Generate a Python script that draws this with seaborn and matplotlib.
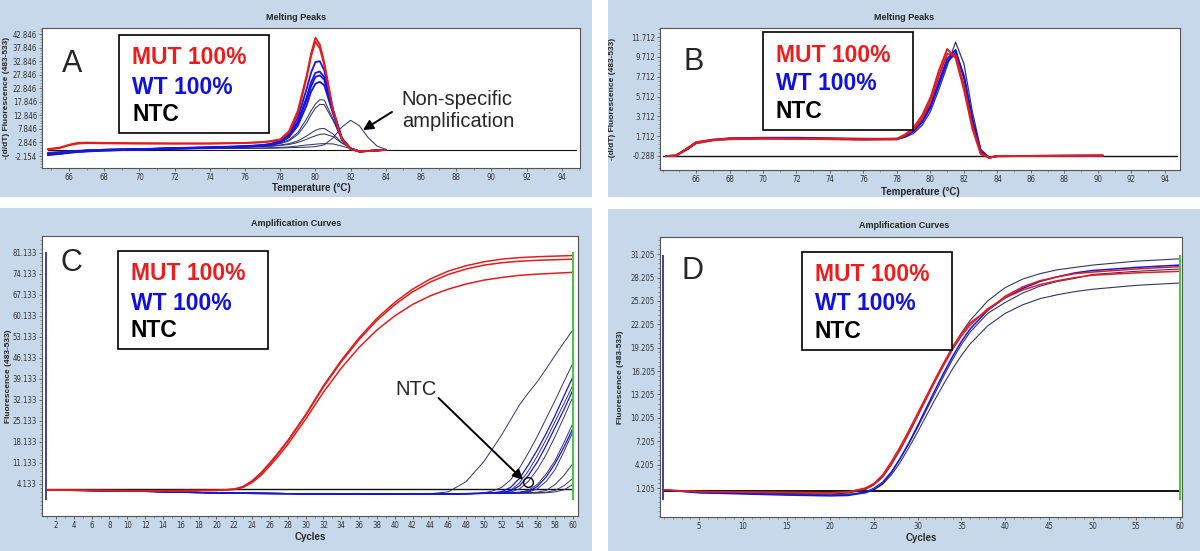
import matplotlib
matplotlib.use("Agg")
import matplotlib.pyplot as plt
from matplotlib import font_manager
from matplotlib.patches import Rectangle
from matplotlib.ticker import AutoMinorLocator
import pandas as pd
import seaborn as sns

# ---------------- data ----------------
# A: melting peaks (temperature in °C)
temp_a = [64.8, 65.5, 66, 66.5, 67, 68, 70, 72, 74, 76, 77, 77.5, 78, 78.5, 79,
          79.5, 79.75, 80, 80.25, 80.5, 81, 81.5, 82, 82.5, 83, 83.5, 84]
mut_a1 = [0.4, 1.0, 2.0, 2.7, 2.8, 2.7, 2.6, 2.5, 2.5, 2.7, 3.0, 3.4, 4.0, 7.0, 14.5, 27.5, 35.5, 41.5, 39.0, 32.5, 15.0, 4.0, 0.5, -0.5, -0.3, -0.1, 0.1]
mut_a2 = [0.2, 0.8, 1.8, 2.4, 2.6, 2.5, 2.4, 2.4, 2.4, 2.6, 2.9, 3.2, 3.8, 6.5, 13.5, 26.5, 34.5, 40.0, 37.5, 31.5, 14.5, 3.8, 0.4, -0.5, -0.3, -0.1, 0.1]
wt_a1 = [-1.4, -1.0, -0.6, -0.4, -0.2, 0.1, 0.4, 0.8, 1.1, 1.5, 1.9, 2.4, 3.5, 6.0, 12.0, 22.5, 28.5, 32.5, 32.8, 29.5, 15.0, 4.5, 0.5, -0.5, -0.3, -0.1, 0.1]
wt_a2 = [-1.6, -1.2, -0.8, -0.5, -0.3, 0.0, 0.3, 0.7, 1.0, 1.4, 1.8, 2.2, 3.2, 5.5, 10.5, 19.5, 25.0, 28.5, 29.0, 27.0, 14.5, 4.3, 0.5, -0.5, -0.3, -0.1, 0.1]
wt_a3 = [-1.7, -1.3, -0.9, -0.6, -0.4, -0.1, 0.2, 0.6, 0.9, 1.3, 1.7, 2.1, 3.0, 5.2, 10.0, 18.5, 23.5, 27.0, 27.6, 26.0, 14.0, 4.2, 0.5, -0.5, -0.3, -0.1, 0.1]
wt_a4 = [-1.8, -1.4, -1.0, -0.7, -0.5, -0.2, 0.2, 0.5, 0.9, 1.3, 1.6, 2.0, 2.8, 4.8, 9.0, 16.5, 21.5, 24.5, 25.2, 24.0, 13.5, 4.0, 0.5, -0.5, -0.3, -0.1, 0.1]
other_a1 = [-1.2, -0.9, -0.5, -0.3, -0.1, 0.2, 0.5, 0.8, 1.1, 1.4, 1.7, 2.0, 2.6, 3.8, 6.5, 11.5, 14.5, 17.0, 18.6, 18.5, 11.5, 4.0, 0.8, -0.4, -0.3, -0.1, 0.1]
other_a2 = [-1.3, -1.0, -0.6, -0.4, -0.2, 0.1, 0.4, 0.7, 1.0, 1.3, 1.6, 1.9, 2.4, 3.4, 5.8, 10.0, 13.0, 15.5, 16.9, 16.8, 11.0, 4.0, 0.8, -0.4, -0.3, -0.1, 0.1]
other_a3 = [-1.0, -0.7, -0.4, -0.2, 0.0, 0.3, 0.5, 0.8, 1.0, 1.2, 1.4, 1.6, 1.9, 2.4, 3.4, 5.2, 6.3, 7.3, 7.9, 8.0, 6.0, 2.8, 0.8, -0.3, -0.2, -0.1, 0.1]
other_a4 = [-1.0, -0.7, -0.4, -0.2, 0.0, 0.3, 0.5, 0.7, 0.9, 1.1, 1.3, 1.4, 1.7, 2.1, 2.8, 4.0, 4.7, 5.3, 5.8, 6.0, 5.0, 2.6, 0.8, -0.3, -0.2, -0.1, 0.1]
other_a5 = [-1.1, -0.8, -0.5, -0.3, -0.1, 0.1, 0.3, 0.5, 0.6, 0.7, 0.8, 0.9, 1.0, 1.2, 1.5, 1.9, 2.05, 2.2, 2.35, 2.4, 2.3, 1.5, 0.6, -0.2, -0.1, 0.0, 0.1]
nonspec_a = [-0.8, -0.6, -0.3, -0.1, 0.0, 0.2, 0.4, 0.5, 0.6, 0.7, 0.7, 0.7, 0.8, 0.9, 1.0, 1.1, 1.2, 1.3, 1.6, 2.0, 4.5, 8.5, 11.0, 9.0, 4.6, 1.5, 0.3]
ntc_a_x = [64.8, 94.8]
ntc_a = [0.2, 0.2]
yticks_a = [-2.154, 2.846, 7.846, 12.846, 17.846, 22.846, 27.846, 32.846, 37.846, 42.846]

# B: melting peaks
temp_b = [64.2, 64.8, 65.5, 66, 67, 68, 70, 72, 74, 76, 78, 78.5, 79, 79.5, 80,
          80.5, 81, 81.5, 82, 82.5, 83, 83.5, 84, 90.3]
mut_b1 = [-0.3, -0.25, 0.5, 1.1, 1.35, 1.45, 1.5, 1.45, 1.45, 1.4, 1.45, 1.9, 2.6, 3.8, 5.6, 8.3, 10.5, 9.6, 6.4, 2.5, -0.1, -0.45, -0.3, -0.25]
mut_b2 = [-0.3, -0.25, 0.5, 1.0, 1.3, 1.4, 1.45, 1.45, 1.4, 1.35, 1.4, 1.8, 2.4, 3.5, 5.2, 7.8, 10.0, 9.9, 6.8, 2.8, 0.0, -0.45, -0.3, -0.25]
wt_b1 = [-0.3, -0.25, 0.5, 1.1, 1.35, 1.5, 1.55, 1.55, 1.5, 1.45, 1.45, 1.75, 2.3, 3.3, 4.8, 7.2, 9.5, 10.4, 7.6, 3.3, 0.1, -0.45, -0.3, -0.25]
wt_b2 = [-0.3, -0.25, 0.4, 1.0, 1.3, 1.45, 1.5, 1.5, 1.45, 1.4, 1.4, 1.7, 2.2, 3.1, 4.6, 6.9, 9.2, 10.1, 7.8, 3.5, 0.2, -0.45, -0.3, -0.25]
other_b1 = [-0.3, -0.25, 0.5, 1.05, 1.35, 1.45, 1.5, 1.5, 1.45, 1.4, 1.4, 1.6, 2.0, 2.8, 4.2, 6.4, 8.8, 11.2, 9.0, 4.2, 0.4, -0.4, -0.3, -0.25]
ntc_b_x = [64.0, 94.7]
ntc_b = [-0.32, -0.32]
yticks_b = [-0.288, 1.712, 3.712, 5.712, 7.712, 9.712, 11.712]

# C: amplification curves (cycles)
cycles_c = [1, 5, 10, 15, 20, 22, 23, 24, 25, 26, 27, 28, 30, 32, 34, 36, 38, 40,
            42, 44, 46, 48, 50, 52, 54, 56, 58, 60]
mut_c1 = [2.1, 2.0, 1.9, 1.9, 2.0, 2.4, 3.3, 5.2, 7.9, 11.2, 14.8, 18.6, 27.2, 36.8, 45.3, 52.8, 59.3, 64.6, 69.0, 72.4, 75.0, 76.8, 78.1, 79.0, 79.5, 79.8, 80.0, 80.2]
mut_c2 = [2.1, 2.0, 1.9, 1.9, 2.0, 2.4, 3.2, 5.0, 7.6, 10.9, 14.5, 18.3, 26.9, 36.4, 44.8, 52.2, 58.6, 63.8, 68.1, 71.4, 73.9, 75.7, 77.0, 77.8, 78.3, 78.6, 78.8, 79.0]
mut_c3 = [2.1, 2.0, 1.9, 1.9, 2.0, 2.3, 3.0, 4.6, 7.0, 10.2, 13.6, 17.3, 25.7, 34.7, 42.7, 49.6, 55.4, 60.1, 63.9, 66.8, 69.0, 70.7, 72.0, 72.9, 73.6, 74.0, 74.3, 74.6]
late_cycles = [1, 10, 20, 30, 40, 44, 46, 48, 50, 51, 52, 53, 54, 55, 56, 57, 58, 59, 60]
late_c1 = [2.1, 1.8, 1.2, 0.9, 0.8, 0.9, 1.5, 4.9, 11.6, 16.0, 20.5, 25.5, 30.5, 34.5, 38.2, 42.5, 47.0, 51.3, 55.5]
late_c2 = [2.1, 1.8, 1.2, 0.9, 0.8, 0.8, 0.9, 1.0, 1.2, 1.8, 3.0, 5.5, 9.5, 14.5, 20.0, 26.0, 32.0, 38.3, 44.4]
late_c3 = [2.1, 1.8, 1.1, 0.8, 0.8, 0.8, 0.8, 0.9, 1.0, 1.2, 1.6, 3.0, 6.0, 10.5, 15.5, 21.0, 27.0, 33.5, 39.9]
late_c4 = [2.1, 1.8, 1.2, 0.9, 0.8, 0.8, 0.8, 0.9, 1.0, 1.1, 1.3, 2.0, 4.5, 8.5, 13.5, 19.0, 25.0, 31.0, 37.1]
late_c5 = [2.1, 1.8, 1.1, 0.8, 0.7, 0.8, 0.8, 0.9, 1.0, 1.1, 1.3, 1.8, 3.5, 7.0, 11.5, 17.0, 23.0, 29.0, 35.5]
late_c6 = [2.1, 1.8, 1.2, 0.9, 0.8, 0.8, 0.8, 0.9, 1.0, 1.0, 1.1, 1.4, 2.5, 5.0, 9.0, 14.0, 20.0, 26.5, 33.2]
late_c7 = [2.1, 1.8, 1.2, 0.9, 0.8, 0.8, 0.8, 0.9, 1.0, 1.0, 1.1, 1.2, 1.4, 2.0, 4.0, 7.5, 12.0, 18.0, 24.4]
late_c8 = [2.1, 1.8, 1.1, 0.8, 0.7, 0.8, 0.8, 0.9, 1.0, 1.0, 1.0, 1.1, 1.3, 1.6, 3.3, 6.5, 11.0, 16.5, 22.7]
late_c9 = [2.1, 1.8, 1.2, 0.9, 0.8, 0.8, 0.8, 0.9, 1.0, 1.0, 1.0, 1.1, 1.2, 1.4, 2.5, 5.0, 9.0, 15.0, 21.6]
late_c10 = [2.1, 1.8, 1.2, 0.9, 0.8, 0.8, 0.8, 0.9, 1.0, 1.0, 1.0, 1.0, 1.1, 1.2, 1.4, 2.0, 4.0, 7.0, 11.0]
late_c11 = [2.1, 1.8, 1.2, 0.9, 0.8, 0.8, 0.8, 0.9, 1.0, 1.0, 1.0, 1.0, 1.1, 1.1, 1.2, 1.4, 2.0, 3.6, 6.0]
late_c12 = [2.1, 1.8, 1.2, 0.9, 0.8, 0.8, 0.8, 0.9, 1.0, 1.0, 1.0, 1.0, 1.0, 1.1, 1.1, 1.2, 1.5, 2.2, 4.0]
ntc_c_x = [1, 60]
ntc_c = [2.3, 2.3]
cursor_c_x = [0.9, 60.0]
cursor_c_y = [-1.2, 81.3]
yticks_c = [4.133, 11.133, 18.133, 25.133, 32.133, 39.133, 46.133, 53.133, 60.133, 67.133, 74.133, 81.133]

# D: amplification curves
cycles_d = [1, 5, 10, 15, 20, 22, 24, 25, 26, 27, 28, 29, 30, 31, 32, 33, 34, 35,
            36, 38, 40, 42, 44, 46, 48, 50, 55, 60]
mut_d1 = [0.95, 0.75, 0.7, 0.65, 0.6, 0.7, 1.2, 1.8, 2.9, 4.6, 6.5, 8.6, 10.8, 13.0, 15.2, 17.3, 19.3, 21.0, 22.4, 24.0, 25.8, 27.0, 27.8, 28.3, 28.7, 28.9, 29.3, 29.6]
mut_d2 = [0.95, 0.75, 0.7, 0.65, 0.6, 0.7, 1.1, 1.7, 2.7, 4.3, 6.2, 8.3, 10.5, 12.7, 14.9, 17.0, 19.0, 20.7, 22.1, 24.2, 25.6, 26.6, 27.3, 27.8, 28.2, 28.5, 28.8, 29.0]
wt_d1 = [0.95, 0.6, 0.45, 0.3, 0.2, 0.25, 0.6, 1.0, 1.8, 3.2, 5.0, 7.0, 9.2, 11.5, 13.8, 16.0, 18.1, 20.0, 21.6, 24.0, 25.6, 26.8, 27.7, 28.3, 28.8, 29.1, 29.5, 29.8]
other_d1 = [0.95, 0.7, 0.6, 0.5, 0.45, 0.55, 1.0, 1.6, 2.6, 4.2, 6.1, 8.2, 10.4, 12.7, 15.0, 17.2, 19.3, 21.1, 22.7, 25.2, 26.9, 28.0, 28.7, 29.2, 29.5, 29.8, 30.3, 30.6]
other_d2 = [0.95, 0.6, 0.5, 0.4, 0.3, 0.35, 0.6, 1.0, 1.7, 2.9, 4.5, 6.4, 8.4, 10.5, 12.6, 14.6, 16.5, 18.2, 19.7, 22.0, 23.6, 24.7, 25.5, 26.0, 26.4, 26.7, 27.2, 27.5]
other_d3 = [0.95, 0.65, 0.5, 0.4, 0.35, 0.4, 0.7, 1.2, 2.0, 3.3, 5.0, 6.9, 9.0, 11.2, 13.4, 15.6, 17.7, 19.6, 21.2, 23.6, 25.0, 26.2, 27.1, 27.7, 28.1, 28.6, 29.0, 29.3]
ntc_d_x = [1, 60]
ntc_d = [0.85, 0.85]
cursor_d_x = [0.9, 60.0]
cursor_d_y = [-0.35, 31.1]
yticks_d = [1.205, 4.205, 7.205, 10.205, 13.205, 16.205, 19.205, 22.205, 25.205, 28.205, 31.205]

legend_labels = ["MUT 100%", "WT 100%", "NTC"]

# ---------------- styling ----------------
W, H = 1200, 551
BG = "#c6d8e9"
RED = "#e01e1e"
BLUE = "#1414e6"
NAVY = "#34346c"
palette = {"mut": RED, "wt": BLUE, "other": NAVY, "ntc": "#111111"}
legend_colors = ["#ee1c1c", "#1010e0", "black"]

sns.set_style("ticks")
plt.rcParams["font.family"] = ["Liberation Sans", "DejaVu Sans"]

# narrow font for the small instrument-style tick labels, if one is installed
fonts = font_manager.fontManager.ttflist
if any(f.name == "Liberation Sans Narrow" for f in fonts):
    TICK_FONT = dict(family="Liberation Sans Narrow", size=6.3)
elif any(f.name == "DejaVu Sans" and f.stretch == "condensed" for f in fonts):
    TICK_FONT = dict(family="DejaVu Sans", stretch="condensed", size=5.6)
else:
    TICK_FONT = dict(family="Liberation Sans", size=5.4)


def long_frame(x, groups):
    parts = []
    for group, series in groups.items():
        for i, ys in enumerate(series):
            parts.append(pd.DataFrame({"x": x, "y": ys, "group": group,
                                       "curve": f"{group}{i}"}))
    return parts


def draw_curves(ax, parts, widths):
    df = pd.concat(parts, ignore_index=True)
    order = [g for g in ["ntc", "other", "wt", "mut"] if g in set(df["group"])]
    sns.lineplot(data=df, x="x", y="y", hue="group", units="curve", estimator=None,
                 palette=palette, hue_order=order, size="group", sizes=widths,
                 size_order=order, sort=False, legend=False, ax=ax)


def add_axes(l, t, r, b):
    return fig.add_axes([l / W, 1 - b / H, (r - l) / W, (b - t) / H])


def ftext(x, y, s, **kw):
    fig.text(x / W, 1 - y / H, s, **kw)


def style_axes(ax, xlim, ylim, xticks, yticks, xminor):
    ax.set_facecolor("white")
    ax.set_xlim(xlim)
    ax.set_ylim(ylim)
    ax.set_xticks(xticks)
    ax.set_yticks(yticks)
    ax.set_yticklabels([f"{v:.3f}" for v in yticks])
    ax.yaxis.set_minor_locator(AutoMinorLocator(5))
    ax.xaxis.set_minor_locator(AutoMinorLocator(xminor))
    ax.tick_params(labelcolor="#333333", length=2.5, width=0.6,
                   color="#555555", pad=1.2)
    ax.tick_params(which="minor", length=1.3, width=0.5, color="#777777")
    for lab in ax.get_xticklabels() + ax.get_yticklabels():
        lab.set_fontproperties(font_manager.FontProperties(**TICK_FONT))
    ax.set_xlabel("")
    ax.set_ylabel("")
    for s in ax.spines.values():
        s.set_color("#555555")
        s.set_linewidth(0.8)


def legend_box(l, t):
    fig.add_artist(Rectangle((l / W, 1 - (t + 98) / H), 150 / W, 98 / H,
                             transform=fig.transFigure, facecolor="white",
                             edgecolor="black", lw=1.2, zorder=5))
    for lab, col, dy in zip(legend_labels, legend_colors, [29.5, 58.5, 86]):
        ftext(l + 13, t + dy, lab, color=col, fontsize=16.5, fontweight="bold",
              va="baseline", ha="left", zorder=6)


def ylabel(x, y, s):
    ftext(x, y, s, fontsize=6, fontweight="bold", rotation=90, ha="center", va="center")


fig = plt.figure(figsize=(12, 5.51), dpi=100)

for l, t, r, b in [(0, 0, 592, 197), (608, 0, 1200, 197),
                   (0, 208, 592, 551), (608, 209, 1200, 551)]:
    fig.add_artist(Rectangle((l / W, 1 - b / H), (r - l) / W, (b - t) / H,
                             transform=fig.transFigure, facecolor=BG,
                             edgecolor="none", zorder=-10))

# ---- panel A ----
ax_a = add_axes(42, 28, 580, 168)
parts = long_frame(temp_a, {"mut": [mut_a1, mut_a2],
                            "wt": [wt_a1, wt_a2, wt_a3, wt_a4],
                            "other": [other_a1, other_a2, other_a3, other_a4,
                                      other_a5, nonspec_a]})
parts += long_frame(ntc_a_x, {"ntc": [ntc_a]})
draw_curves(ax_a, parts, {"mut": 1.3, "wt": 1.3, "other": 0.75, "ntc": 0.8})
style_axes(ax_a, (64.47, 95.03), (-6.58, 45.06), list(range(66, 95, 2)), yticks_a, 2)
ax_a.text(84.9, 14.8, "Non-specific\namplification", fontsize=14.5,
          va="center", ha="left", linespacing=1.2)
ax_a.annotate("", xy=(82.7, 7.4), xytext=(84.35, 14.1),
              arrowprops=dict(arrowstyle="-|>", color="black", lw=1.4,
                              mutation_scale=15, shrinkA=0, shrinkB=0))
ftext(296, 17, "Melting Peaks", fontsize=6.5, fontweight="bold", ha="center", va="center")
ftext(311, 188, "Temperature (°C)", fontsize=7, fontweight="bold", ha="center", va="center")
ylabel(7, 98, "-(d/dT) Fluorescence (483-533)")
ftext(62, 72, "A", fontsize=22, va="baseline", ha="left")
legend_box(119, 35)

# ---- panel B ----
ax_b = add_axes(660, 28, 1180, 170)
parts = long_frame(temp_b, {"mut": [mut_b1, mut_b2], "wt": [wt_b1, wt_b2],
                            "other": [other_b1]})
parts += long_frame(ntc_b_x, {"ntc": [ntc_b]})
draw_curves(ax_b, parts, {"mut": 1.4, "wt": 1.4, "other": 0.9, "ntc": 1.0})
style_axes(ax_b, (63.85, 94.9), (-1.70, 12.62), list(range(66, 95, 2)), yticks_b, 2)
ftext(904, 17, "Melting Peaks", fontsize=6.5, fontweight="bold", ha="center", va="center")
ftext(920, 192, "Temperature (°C)", fontsize=7, fontweight="bold", ha="center", va="center")
ylabel(613, 99, "-(d/dT) Fluorescence (483-533)")
ftext(683, 70, "B", fontsize=22, va="baseline", ha="left")
legend_box(763, 32)

# ---- panel C ----
ax_c = add_axes(42, 236, 578, 516)
parts = long_frame(cycles_c, {"mut": [mut_c1, mut_c2, mut_c3]})
parts += long_frame(late_cycles, {"wt": [late_c3, late_c5, late_c8],
                                  "other": [late_c1, late_c2, late_c4, late_c6, late_c7,
                                            late_c9, late_c10, late_c11, late_c12]})
parts += long_frame(ntc_c_x, {"ntc": [ntc_c]})
draw_curves(ax_c, parts, {"mut": 1.1, "wt": 0.9, "other": 0.7, "ntc": 1.0})
ax_c.vlines(cursor_c_x, cursor_c_y[0], cursor_c_y[1], colors=["#4a3f95", "#3ccc3c"], lw=1.4)
style_axes(ax_c, (0.43, 60.56), (-6.53, 86.7), list(range(2, 61, 2)), yticks_c, 2)
ax_c.text(40.05, 35.5, "NTC", fontsize=14.5, va="center", ha="left")
ax_c.annotate("", xy=(54.4, 5.5), xytext=(44.9, 32.8),
              arrowprops=dict(arrowstyle="-|>", color="black", lw=1.4,
                              mutation_scale=15, shrinkA=0, shrinkB=0))
ax_c.plot([55.0], [4.8], marker="o", ms=7, mfc="none", mec="black", mew=1.0)
ftext(296, 224, "Amplification Curves", fontsize=6.5, fontweight="bold", ha="center", va="center")
ftext(310, 537, "Cycles", fontsize=7, fontweight="bold", ha="center", va="center")
ylabel(9, 376, "Fluorescence (483-533)")
ftext(60, 271, "C", fontsize=22, va="baseline", ha="left")
legend_box(118, 251)

# ---- panel D ----
ax_d = add_axes(660, 237, 1182, 517)
parts = long_frame(cycles_d, {"mut": [mut_d1, mut_d2], "wt": [wt_d1],
                              "other": [other_d1, other_d2, other_d3]})
parts += long_frame(ntc_d_x, {"ntc": [ntc_d]})
draw_curves(ax_d, parts, {"mut": 1.1, "wt": 1.1, "other": 0.8, "ntc": 1.4})
ax_d.vlines(cursor_d_x, cursor_d_y[0], cursor_d_y[1], colors=["#4a3f95", "#3ccc3c"], lw=1.4)
style_axes(ax_d, (0.53, 60.23), (-2.51, 33.4), list(range(5, 61, 5)), yticks_d, 5)
ftext(904, 225, "Amplification Curves", fontsize=6.5, fontweight="bold", ha="center", va="center")
ftext(921, 538, "Cycles", fontsize=7, fontweight="bold", ha="center", va="center")
ylabel(620, 377, "Fluorescence (483-533)")
ftext(682, 279, "D", fontsize=22, va="baseline", ha="left")
legend_box(802, 252)

fig.savefig("out.png", dpi=100)
